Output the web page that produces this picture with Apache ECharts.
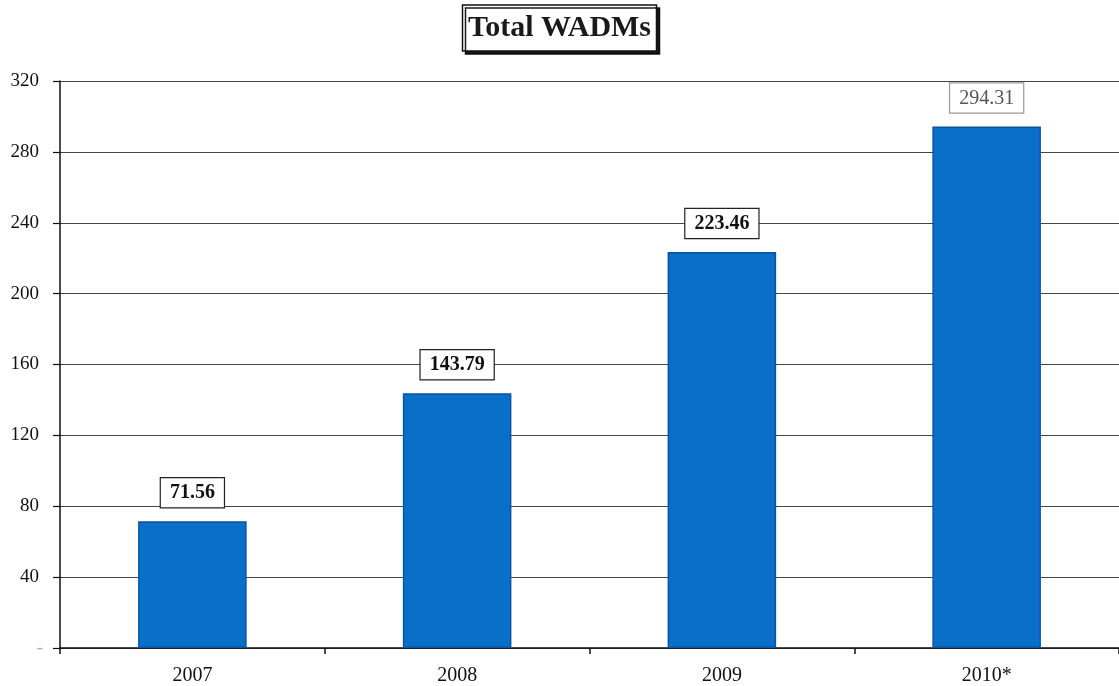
<!DOCTYPE html>
<html>
<head>
<meta charset="utf-8">
<script src="https://cdn.jsdelivr.net/npm/echarts@6/dist/echarts.min.js"></script>
<style>
  html, body { margin: 0; padding: 0; background: #fff; }
  #chart { width: 1119px; height: 686px; }
</style>
</head>
<body>
<div id="chart"></div>
<script>
// Yearly totals
const categories = ['2007', '2008', '2009', '2010*'];
const totals = [71.56, 143.79, 223.46, 294.31];
const yTicks = [0, 40, 80, 120, 160, 200, 240, 280, 320];

const serif = '"Liberation Serif", "DejaVu Serif", serif';
const chart = echarts.init(document.getElementById('chart'));

// the last year is an estimate, its value box is drawn lighter
const barData = totals.map((v, i) => {
  const item = { value: v };
  if (i === totals.length - 1) {
    item.label = { fontWeight: 'normal', color: '#555', borderColor: '#999' };
  }
  return item;
});

chart.setOption({
  backgroundColor: '#ffffff',
  animation: false,
  title: {
    text: 'Total WADMs',
    left: 'center',
    top: 5,
    padding: [8, 6, 8, 6],
    borderColor: '#111',
    borderWidth: 1.5,
    shadowColor: 'rgba(0,0,0,0.9)',
    shadowOffsetX: 3,
    shadowOffsetY: 3,
    backgroundColor: '#fff',
    textStyle: { fontFamily: serif, fontSize: 30, fontWeight: 'bold', color: '#1a1a1a' }
  },
  grid: { left: 60, top: 81, width: 1064, height: 567, containLabel: false },
  xAxis: {
    type: 'category',
    data: categories,
    axisLine: { lineStyle: { color: '#111', width: 1.5 } },
    axisTick: { show: true, length: 6, lineStyle: { color: '#111', width: 1.5 } },
    axisLabel: { fontFamily: serif, fontSize: 20, color: '#111', margin: 18 }
  },
  yAxis: {
    type: 'value',
    min: yTicks[0],
    max: yTicks[yTicks.length - 1],
    interval: 40,
    axisLine: { show: true, lineStyle: { color: '#111', width: 1.5 } },
    axisTick: { show: true, length: 7, lineStyle: { color: '#111', width: 1.2 } },
    splitLine: { lineStyle: { color: '#444', width: 1.2 } },
    axisLabel: {
      fontFamily: serif, fontSize: 19, color: '#111', margin: 21,
      formatter: v => (v === 0 ? '{z|-}' : String(v)),
      rich: { z: { fontFamily: serif, fontSize: 19, color: '#aaa', padding: [0, -4, 0, 0] } }
    }
  },
  series: [{
    type: 'bar',
    data: barData,
    barWidth: '41%',
    itemStyle: { color: '#0a6fc9', borderColor: '#0a55a0', borderWidth: 1.5 },
    label: {
      show: true,
      position: 'top',
      distance: 14,
      fontFamily: serif,
      fontSize: 20,
      fontWeight: 'bold',
      color: '#111',
      backgroundColor: '#fff',
      borderColor: '#222',
      borderWidth: 1.2,
      padding: [5, 9, 4, 9],
      formatter: p => p.value.toFixed(2)
    }
  }]
});
</script>
</body>
</html>
